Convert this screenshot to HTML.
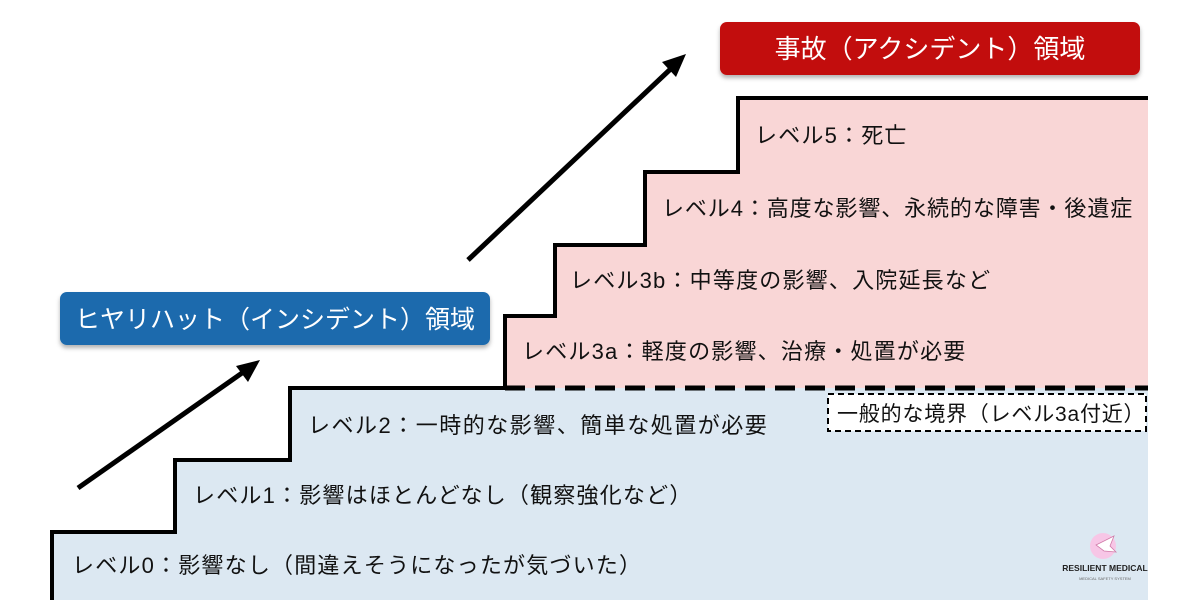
<!DOCTYPE html>
<html><head><meta charset="utf-8"><style>
body{margin:0;width:1200px;height:600px;background:#fff;overflow:hidden;font-family:"Liberation Sans","Noto Sans CJK JP",sans-serif}
svg text{font-family:"Liberation Sans","Noto Sans CJK JP",sans-serif}
</style></head><body>
<svg width="1200" height="600" viewBox="0 0 1200 600" xmlns="http://www.w3.org/2000/svg">
<defs>
<filter id="sh" x="-5%" y="-20%" width="110%" height="150%"><feDropShadow dx="0" dy="3" stdDeviation="2" flood-opacity="0.3"/></filter>
</defs>
<path d="M52,600 L52,532 L175,532 L175,460 L290,460 L290,388 L1148,388 L1148,600 Z" fill="#dce8f2"/>
<path d="M505,388 L505,316 L555,316 L555,245 L645,245 L645,172 L738,172 L738,98 L1148,98 L1148,388 Z" fill="#f9d6d6"/>
<path d="M52,600 L52,532 L175,532 L175,460 L290,460 L290,388 L505,388 L505,316 L555,316 L555,245 L645,245 L645,172 L738,172 L738,98 L1148,98" fill="none" stroke="#000" stroke-width="4"/>
<line x1="505" y1="388" x2="1148" y2="388" stroke="#000" stroke-width="5" stroke-dasharray="20,10"/>
<rect x="828" y="394" width="318" height="37" fill="#fff" stroke="#000" stroke-width="2" stroke-dasharray="6,4"/>
<text x="837" y="421" font-size="21" letter-spacing="0.8" fill="#111">一般的な境界（レベル3a付近）</text>
<line x1="78" y1="488" x2="252" y2="366" stroke="#000" stroke-width="5"/>
<path d="M260,360 L236,366 L248,382 Z" fill="#000"/>
<line x1="468" y1="260" x2="678" y2="62" stroke="#000" stroke-width="5"/>
<path d="M686,54 L662,62 L676,77 Z" fill="#000"/>
<rect x="60" y="292" width="430" height="53" rx="7" fill="#1a6aad" filter="url(#sh)"/>
<text x="275" y="328" font-size="25" fill="#fff" text-anchor="middle">ヒヤリハット（インシデント）領域</text>
<rect x="720" y="22" width="420" height="53" rx="7" fill="#c20a0a" filter="url(#sh)"/>
<text x="930" y="58" font-size="26" fill="#fff" text-anchor="middle">事故（アクシデント）領域</text>
<g font-size="22" fill="#111" letter-spacing="1.2">
<text x="72" y="573">レベル0：影響なし（間違えそうになったが気づいた）</text>
<text x="193" y="503">レベル1：影響はほとんどなし（観察強化など）</text>
<text x="308" y="433" letter-spacing="1.5">レベル2：一時的な影響、簡単な処置が必要</text>
<text x="522" y="359">レベル3a：軽度の影響、治療・処置が必要</text>
<text x="570" y="288">レベル3b：中等度の影響、入院延長など</text>
<text x="662" y="216" letter-spacing="0.9">レベル4：高度な影響、永続的な障害・後遺症</text>
<text x="755" y="143">レベル5：死亡</text>
</g>
<circle cx="1103" cy="546" r="13" fill="#f7c6e6"/>
<path d="M1096,545 L1106,540 L1114,536 L1110,546 L1116,552 L1104,551 Z" fill="#fff" stroke="#d07aa8" stroke-width="0.8"/>
<text x="1105" y="571" font-size="8.5" font-weight="bold" fill="#222" text-anchor="middle" font-family="Liberation Serif,serif">RESILIENT MEDICAL</text>
<text x="1105" y="580" font-size="4" fill="#666" text-anchor="middle">MEDICAL SAFETY SYSTEM</text>
</svg>
</body></html>
